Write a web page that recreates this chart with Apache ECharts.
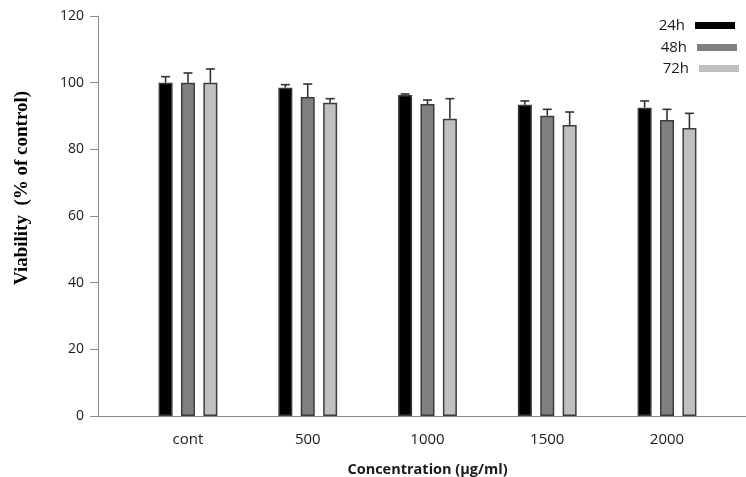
<!DOCTYPE html>
<html>
<head>
<meta charset="utf-8">
<script src="https://cdn.jsdelivr.net/npm/echarts@6/dist/echarts.min.js"></script>
<style>html,body{margin:0;padding:0;background:#fff;}#c{width:746px;height:477px;}</style>
</head>
<body>
<div id="c"></div>
<script>
const categories = ['cont', '500', '1000', '1500', '2000'];
const seriesNames = ['24h', '48h', '72h'];
const values24 = [100, 98.5, 96.3, 93.4, 92.5];
const values48 = [100, 95.7, 93.6, 90.1, 88.8];
const values72 = [100, 94, 89.2, 87.3, 86.4];
const err24 = [1.8, 0.9, 0.3, 1.1, 2.0];
const err48 = [2.9, 3.9, 1.2, 1.9, 3.2];
const err72 = [4.1, 1.2, 6.0, 3.9, 4.4];
const yTicks = [0, 20, 40, 60, 80, 100, 120];

const allValues = [values24, values48, values72];
const allErr = [err24, err48, err72];
const colors = ['#000000', '#808080', '#c0c0c0'];
const barWidth = 14, barGapPct = 0.6;
const step = barWidth * (1 + barGapPct);
const offsets = [-step, 0, step];
const FONT = '"Open Sans", "Noto Sans", sans-serif';

const chart = echarts.init(document.getElementById('c'));

const series = [];
seriesNames.forEach((name, i) => {
  series.push({
    name: name, type: 'bar', xAxisIndex: 0, yAxisIndex: 0,
    data: allValues[i], barWidth: barWidth, barGap: (barGapPct * 100) + '%',
    itemStyle: { color: colors[i], borderColor: '#3c3c3c', borderWidth: 1.5 },
    emphasis: { disabled: true }, animation: false
  });
});
seriesNames.forEach((name, i) => {
  series.push({
    type: 'custom', xAxisIndex: 0, yAxisIndex: 0, z: 5, silent: true, animation: false,
    data: allValues[i].map((v, k) => [k, v, v + allErr[i][k]]),
    encode: { x: 0, y: [1, 2] },
    renderItem: function (params, api) {
      const c = api.value(0);
      const base = api.coord([c, api.value(1)]);
      const top = api.coord([c, api.value(2)]);
      const x = base[0] + offsets[i];
      const st = { stroke: '#333333', lineWidth: 1.6 };
      return {
        type: 'group',
        children: [
          { type: 'line', shape: { x1: x, y1: base[1], x2: x, y2: top[1] }, style: st },
          { type: 'line', shape: { x1: x - 4.5, y1: top[1], x2: x + 4.5, y2: top[1] }, style: st }
        ]
      };
    }
  });
});

function legendFor(name, right, top) {
  return {
    data: [name], orient: 'vertical', align: 'right', right: right, top: top,
    icon: 'rect', itemWidth: 40, itemHeight: 7, selectedMode: false,
    itemStyle: { borderWidth: 0 },
    textStyle: { fontFamily: FONT, fontSize: 15, color: '#1a1a1a', padding: [4, 5, 0, 0] }
  };
}

chart.setOption({
  animation: false,
  backgroundColor: '#ffffff',
  grid: [
    { left: 128.1, right: 746 - 726.9, top: 16, bottom: 61, outerBoundsMode: 'none', containLabel: false },
    { left: 98, right: 0, top: 16, bottom: 61, outerBoundsMode: 'none', containLabel: false }
  ],
  legend: [legendFor('24h', 6, 13), legendFor('48h', 4, 35), legendFor('72h', 2, 56)],
  xAxis: [
    {
      type: 'category', gridIndex: 0, data: categories,
      axisLine: { show: false }, axisTick: { show: false },
      axisLabel: { fontFamily: FONT, fontSize: 15, color: '#1a1a1a', margin: 16 },
      name: 'Concentration (µg/ml)', nameLocation: 'middle', nameGap: 46,
      nameTextStyle: { fontFamily: FONT, fontSize: 14.5, fontWeight: 'bold', color: '#1a1a1a' }
    },
    {
      type: 'value', gridIndex: 1, min: 0, max: 1,
      axisLine: { show: true, lineStyle: { color: '#8a8a8a', width: 1 } },
      axisTick: { show: false }, axisLabel: { show: false }, splitLine: { show: false }
    }
  ],
  yAxis: [
    {
      type: 'value', gridIndex: 0, min: 0, max: 120, interval: 20, offset: 30.1,
      axisLine: { show: true, lineStyle: { color: '#8a8a8a', width: 1 } },
      axisTick: { show: true, length: 8, inside: false, lineStyle: { color: '#8a8a8a' } },
      axisLabel: {
        fontFamily: FONT, fontSize: 14, color: '#1a1a1a', margin: 14,
        customValues: yTicks
      },
      splitLine: { show: false }
    },
    { type: 'value', gridIndex: 1, show: false, min: 0, max: 120 }
  ],
  graphic: [{
    type: 'text', x: 22, y: 188, rotation: Math.PI / 2, silent: true,
    style: {
      text: 'Viability  (% of control)', fontFamily: '"Liberation Serif", "Times New Roman", serif',
      fontSize: 19, fontWeight: 'bold', fill: '#000000', align: 'center', verticalAlign: 'middle'
    }
  }],
  series: series
});
</script>
</body>
</html>
